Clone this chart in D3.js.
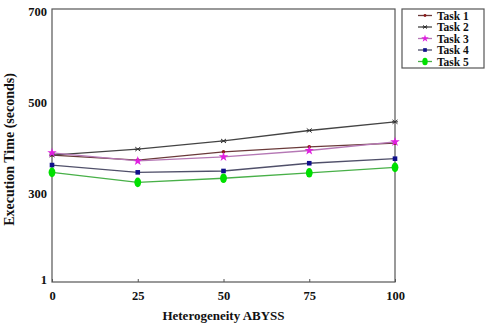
<!DOCTYPE html>
<html><head><meta charset="utf-8">
<script src="https://cdn.jsdelivr.net/npm/d3@7"></script>
<style>body{margin:0;background:#fff}svg{display:block}</style>
</head><body>
<script>
const xValues = [0, 25, 50, 75, 100];
const task1 = [379, 368, 386, 397, 405];
const task2 = [379, 392, 410, 433, 452];
const task3 = [384, 366, 375, 389, 408];
const task4 = [357, 341, 344, 361, 371];
const task5 = [341, 319, 328, 340, 352];
const seriesNames = ["Task 1", "Task 2", "Task 3", "Task 4", "Task 5"];
const yTickValues = [100, 300, 500, 700];
const yTickLabels = ["1", "300", "500", "700"];
const xTickLabels = ["0", "25", "50", "75", "100"];

const series = [
  {name: seriesNames[0], values: task1, line: "#6a3a3a", mark: "#8b1a1a", shape: "dot"},
  {name: seriesNames[1], values: task2, line: "#444444", mark: "#333333", shape: "cross"},
  {name: seriesNames[2], values: task3, line: "#b578b5", mark: "#e020e0", shape: "star"},
  {name: seriesNames[3], values: task4, line: "#50506a", mark: "#10108a", shape: "square"},
  {name: seriesNames[4], values: task5, line: "#48b048", mark: "#00e000", shape: "diamond"}
];

const W = 489, H = 327;
const m = {left: 52, right: 94, top: 9, bottom: 45};
const svg = d3.select("body").append("svg").attr("width", W).attr("height", H);
const x = d3.scaleLinear().domain([0, 100]).range([m.left, W - m.right]);
const y = d3.scaleLinear().domain([100, 700]).range([H - m.bottom, m.top]);
const font = "'Liberation Serif', 'Times New Roman', serif";

// frame
svg.append("rect").attr("x", x(0)).attr("y", y(700))
  .attr("width", x(100) - x(0)).attr("height", y(100) - y(700))
  .attr("fill", "none").attr("stroke", "#555").attr("stroke-width", 1.2);

// x axis
const xa = svg.append("g").attr("transform", `translate(0,${y(100)})`)
  .call(d3.axisBottom(x).tickValues(xValues).tickSize(-3).tickPadding(9)
    .tickFormat((d, i) => xTickLabels[i]));
xa.select(".domain").remove();
xa.selectAll("line").attr("stroke", "#555");
xa.selectAll("text").attr("font-family", font).attr("font-weight", "bold")
  .attr("font-size", 12.5).attr("fill", "#111");

// y axis
const ya = svg.append("g").attr("transform", `translate(${x(0)},0)`)
  .call(d3.axisLeft(y).tickValues(yTickValues).tickSize(0).tickPadding(5)
    .tickFormat((d, i) => yTickLabels[i]));
ya.select(".domain").remove();
ya.selectAll("text").attr("font-family", font).attr("font-weight", "bold")
  .attr("font-size", 12.5).attr("fill", "#111").attr("dy", "0.5em");
ya.selectAll(".tick").filter(d => d === 100).select("text")
  .attr("dy", "0.1em");

// titles
svg.append("text").attr("x", (x(0) + x(100)) / 2).attr("y", 320)
  .attr("text-anchor", "middle").attr("font-family", font).attr("font-weight", "bold")
  .attr("font-size", 13).attr("fill", "#111").text("Heterogeneity ABYSS");
svg.append("text").attr("transform", `translate(14,${(y(100) + y(700)) / 2 + 4}) rotate(-90)`)
  .attr("text-anchor", "middle").attr("font-family", font).attr("font-weight", "bold")
  .attr("font-size", 14).attr("fill", "#111").text("Execution Time (seconds)");

function drawMarker(g, shape, cx, cy, color, s) {
  if (shape === "dot") {
    g.append("circle").attr("cx", cx).attr("cy", cy).attr("r", 1.8 * s).attr("fill", color);
  } else if (shape === "cross") {
    g.append("path").attr("d", `M${cx-2.5*s},${cy-2*s}L${cx+2.5*s},${cy+2*s}M${cx-2.5*s},${cy+2*s}L${cx+2.5*s},${cy-2*s}M${cx-3*s},${cy}L${cx+3*s},${cy}`)
      .attr("stroke", color).attr("stroke-width", 1);
  } else if (shape === "star") {
    g.append("path").attr("d", d3.symbol().type(d3.symbolStar).size(28 * s * s)())
      .attr("transform", `translate(${cx},${cy})`).attr("fill", color);
  } else if (shape === "square") {
    g.append("rect").attr("x", cx - 2.3 * s).attr("y", cy - 2.3 * s)
      .attr("width", 4.6 * s).attr("height", 4.6 * s).attr("fill", color);
  } else if (shape === "diamond") {
    g.append("ellipse").attr("cx", cx).attr("cy", cy).attr("rx", 3.4 * s).attr("ry", 4.8 * s).attr("fill", color);
  }
}

const line = d3.line().x((d, i) => x(xValues[i])).y(d => y(d));
series.forEach(s => {
  svg.append("path").datum(s.values).attr("d", line)
    .attr("fill", "none").attr("stroke", s.line).attr("stroke-width", 1.3);
});
series.forEach(s => {
  const g = svg.append("g");
  s.values.forEach((v, i) => drawMarker(g, s.shape, x(xValues[i]), y(v), s.mark, 1));
});

// legend
const lg = svg.append("g");
lg.append("rect").attr("x", 402).attr("y", 9).attr("width", 82).attr("height", 59)
  .attr("fill", "#fff").attr("stroke", "#555").attr("stroke-width", 1.2);
series.forEach((s, i) => {
  const ly = 15.5 + i * 11.5;
  lg.append("line").attr("x1", 418).attr("x2", 432).attr("y1", ly).attr("y2", ly)
    .attr("stroke", s.line).attr("stroke-width", 1.3);
  drawMarker(lg, s.shape, 425, ly, s.mark, 0.8);
  lg.append("text").attr("x", 437).attr("y", ly).attr("dy", "0.35em")
    .attr("font-family", font).attr("font-weight", "bold").attr("font-size", 11.5)
    .attr("fill", "#111").text(s.name);
});
</script>
</body></html>
